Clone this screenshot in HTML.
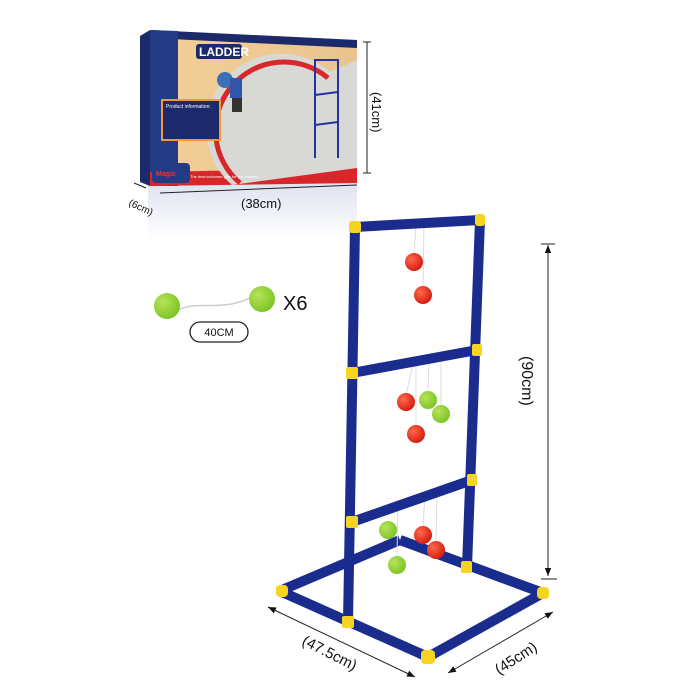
<!DOCTYPE html>
<html><head><style>
html,body{margin:0;padding:0;background:#fff;}
svg{display:block;font-family:"Liberation Sans",sans-serif;}
</style></head><body>
<svg width="700" height="700" viewBox="0 0 700 700">
<defs>
<marker id="ar" viewBox="0 0 10 10" refX="10" refY="5" markerWidth="8" markerHeight="8" orient="auto-start-reverse"><path d="M0,1 L10,5 L0,9 z" fill="#111"/></marker>
<radialGradient id="rb" cx="0.35" cy="0.35" r="0.7"><stop offset="0" stop-color="#ff6a4a"/><stop offset="1" stop-color="#d41a10"/></radialGradient>
<radialGradient id="gb" cx="0.35" cy="0.35" r="0.7"><stop offset="0" stop-color="#b6e35a"/><stop offset="1" stop-color="#7cc425"/></radialGradient>
<linearGradient id="boxg" x1="0" y1="0" x2="1" y2="0"><stop offset="0" stop-color="#f3cf98"/><stop offset="1" stop-color="#e9c48e"/></linearGradient>
<linearGradient id="refl" x1="0" y1="0" x2="0" y2="1"><stop offset="0" stop-color="#dfe3f0"/><stop offset="1" stop-color="#fff"/></linearGradient>
</defs>

<!-- box -->
<polygon points="148,185 357,183 357,240 148,240" fill="url(#refl)"/>
<polygon points="140,36 150,30 150,186 140,182" fill="#1c2a6b"/>
<polygon points="150,30 357,40 357,183 150,186" fill="url(#boxg)"/>
<polygon points="150,30 357,40 357,48 150,38" fill="#1c2a6b"/>
<polygon points="150,30 178,31 178,186 150,186" fill="#233a85"/>
<polygon points="150,172 357,168 357,183 150,186" fill="#d8262a"/>
<path d="M232,185 A70,70 0 0 1 330,72 L357,60 L357,168 Z" fill="#d8d8d4"/>
<path d="M240,183 A62,62 0 0 1 328,78" fill="none" stroke="#d8262a" stroke-width="5"/>
<rect x="162" y="100" width="58" height="40" fill="#1c2a6b" stroke="#f29a3a" stroke-width="2"/>
<text x="166" y="108" font-size="5" fill="#fff">Product information:</text>
<rect x="152" y="163" width="38" height="20" rx="4" fill="#233a85"/>
<text x="156" y="176" font-size="7" fill="#e33" font-weight="bold">Magic</text>
<rect x="196" y="44" width="46" height="15" rx="3" fill="#1c2a6b"/>
<text x="199" y="56" font-size="12" font-weight="bold" fill="#fff">LADDER</text>
<circle cx="225" cy="80" r="8" fill="#3b6fb8"/>
<rect x="230" y="78" width="12" height="20" fill="#2f56a8"/>
<rect x="232" y="98" width="10" height="14" fill="#333"/>
<polyline points="315,158 315,60 338,60 338,158" fill="none" stroke="#2433a0" stroke-width="2"/>
<line x1="315" y1="95" x2="338" y2="92" stroke="#2433a0" stroke-width="2"/>
<line x1="315" y1="125" x2="338" y2="122" stroke="#2433a0" stroke-width="2"/>
<text x="190" y="178" font-size="4" fill="#fff">The best welcome gifts for the children</text>

<line x1="367" y1="42" x2="367" y2="173" stroke="#222" stroke-width="1"/>
<line x1="363" y1="42" x2="371" y2="42" stroke="#222"/><line x1="363" y1="173" x2="371" y2="173" stroke="#222"/>
<text transform="translate(372,92) rotate(90)" font-size="13" fill="#111">(41cm)</text>
<line x1="160" y1="193" x2="357" y2="185" stroke="#222" stroke-width="1"/>
<text x="241" y="208" font-size="13" fill="#111">(38cm)</text>
<line x1="134" y1="183" x2="146" y2="188" stroke="#222"/>
<text transform="translate(128,205) rotate(25)" font-size="10" fill="#111">(6cm)</text>

<!-- loose balls -->
<path d="M178,310 C200,300 220,312 250,298" stroke="#ccc" fill="none" stroke-width="1.5"/>
<circle cx="167" cy="306" r="13" fill="url(#gb)"/>
<circle cx="262" cy="299" r="13" fill="url(#gb)"/>
<text x="283" y="310" font-size="20" fill="#111">X6</text>
<rect x="190" y="322" width="58" height="20" rx="10" fill="#fff" stroke="#222" stroke-width="1.3"/>
<text x="219" y="336" font-size="11" text-anchor="middle" fill="#111">40CM</text>

<!-- ladder back base -->
<g stroke-linecap="butt" fill="none">
<line x1="282" y1="590" x2="400" y2="540" stroke="#1b2c8f" stroke-width="10"/>
<line x1="400" y1="540" x2="543" y2="593" stroke="#1b2c8f" stroke-width="10"/>
<line x1="467" y1="567" x2="480" y2="220" stroke="#1b2c8f" stroke-width="10"/>
<!-- strings -->
<g stroke="#ddd" stroke-width="1">
<line x1="416" y1="224" x2="414" y2="255"/><line x1="424" y1="222" x2="423" y2="288"/>
<line x1="414" y1="360" x2="406" y2="395"/><line x1="429" y1="358" x2="428" y2="392"/>
<line x1="441" y1="356" x2="441" y2="406"/><line x1="416" y1="360" x2="416" y2="426"/>
<line x1="398" y1="500" x2="397" y2="557"/><line x1="425" y1="495" x2="423" y2="527"/><line x1="437" y1="492" x2="436" y2="542"/>
</g>
<line x1="352" y1="373" x2="477" y2="350" stroke="#1b2c8f" stroke-width="10"/>
<line x1="352" y1="522" x2="472" y2="480" stroke="#1b2c8f" stroke-width="10"/>
<line x1="355" y1="227" x2="480" y2="220" stroke="#1b2c8f" stroke-width="10"/>
<line x1="348" y1="622" x2="355" y2="227" stroke="#1b2c8f" stroke-width="10"/>
<line x1="282" y1="592" x2="428" y2="657" stroke="#1b2c8f" stroke-width="10"/>
<line x1="428" y1="657" x2="543" y2="593" stroke="#1b2c8f" stroke-width="10"/>
</g>
<g fill="#f5d422">
<rect x="349" y="221" width="12" height="12" rx="3"/><rect x="475" y="214" width="10" height="12" rx="3"/>
<rect x="346" y="367" width="12" height="12" rx="2"/><rect x="472" y="344" width="10" height="12" rx="2"/>
<rect x="346" y="516" width="12" height="12" rx="2"/><rect x="467" y="474" width="10" height="12" rx="2"/>
<rect x="342" y="616" width="12" height="12" rx="2"/><rect x="461" y="561" width="11" height="12" rx="2"/>
<rect x="276" y="585" width="12" height="12" rx="4"/><rect x="421" y="650" width="14" height="14" rx="4"/>
<rect x="537" y="587" width="12" height="12" rx="4"/>
</g>
<!-- balls -->
<circle cx="414" cy="262" r="9" fill="url(#rb)"/><circle cx="423" cy="295" r="9" fill="url(#rb)"/>
<circle cx="406" cy="402" r="9" fill="url(#rb)"/><circle cx="428" cy="400" r="9" fill="url(#gb)"/>
<circle cx="441" cy="414" r="9" fill="url(#gb)"/><circle cx="416" cy="434" r="9" fill="url(#rb)"/>
<circle cx="388" cy="530" r="9" fill="url(#gb)"/><circle cx="423" cy="535" r="9" fill="url(#rb)"/>
<circle cx="436" cy="550" r="9" fill="url(#rb)"/><circle cx="397" cy="565" r="9" fill="url(#gb)"/>

<!-- dims -->
<line x1="548" y1="245" x2="548" y2="576" stroke="#222" marker-start="url(#ar)" marker-end="url(#ar)"/>
<line x1="541" y1="244" x2="555" y2="244" stroke="#222"/><line x1="541" y1="579" x2="557" y2="579" stroke="#222"/>
<text transform="translate(522,356) rotate(90)" font-size="16" fill="#111">(90cm)</text>
<line x1="268" y1="607" x2="415" y2="677" stroke="#222" marker-start="url(#ar)" marker-end="url(#ar)"/>
<text transform="translate(301,644) rotate(27)" font-size="15" fill="#111">(47.5cm)</text>
<line x1="448" y1="673" x2="553" y2="612" stroke="#222" marker-start="url(#ar)" marker-end="url(#ar)"/>
<text transform="translate(499,675) rotate(-33)" font-size="15" fill="#111">(45cm)</text>
</svg>
</body></html>
